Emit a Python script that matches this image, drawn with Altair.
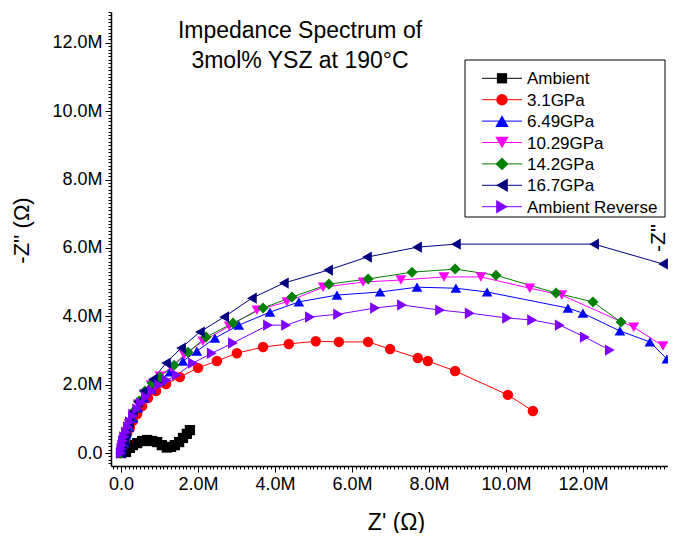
import altair as alt
import pandas as pd

series = ["Ambient", "3.1GPa", "6.49GPa", "10.29GPa", "14.2GPa", "16.7GPa", "Ambient Reverse"]
colors = ["#000000", "#FF0000", "#0000FF", "#FF00FF", "#008000", "#000080", "#8000FF"]
shapes = ["square", "circle", "triangle-up", "triangle-down", "diamond", "triangle-left", "triangle-right"]
sizes = [105, 130, 180, 180, 165, 180, 180]

# values in M-ohm
amb_x = [0.0, 0.02, 0.06, 0.13, 0.23, 0.31, 0.42, 0.55, 0.68, 0.81, 0.94, 1.06, 1.19, 1.30, 1.40, 1.51, 1.61, 1.71, 1.79]
amb_y = [0.0, 0.05, 0.10, 0.03, 0.15, 0.23, 0.29, 0.35, 0.38, 0.35, 0.32, 0.23, 0.16, 0.18, 0.23, 0.32, 0.44, 0.56, 0.67]

r31_x = [0.0, 0.03, 0.05, 0.10, 0.16, 0.23, 0.31, 0.42, 0.55, 0.70, 0.91, 1.17, 1.53, 2.00, 2.49, 3.01, 3.69, 4.36, 5.06, 5.66, 6.42, 6.99, 7.71, 7.97, 8.68, 10.05, 10.70]
r31_y = [0.0, 0.12, 0.23, 0.38, 0.56, 0.73, 0.94, 1.14, 1.37, 1.61, 1.81, 2.02, 2.22, 2.49, 2.69, 2.92, 3.10, 3.19, 3.27, 3.25, 3.25, 3.04, 2.78, 2.69, 2.40, 1.70, 1.23]

b649_x = [0.0, 0.03, 0.08, 0.13, 0.21, 0.31, 0.44, 0.60, 0.78, 1.01, 1.27, 1.61, 1.97, 2.44, 3.06, 3.87, 4.62, 5.61, 6.73, 7.69, 8.70, 9.51, 11.61, 12.00, 12.96, 13.74, 14.18]
b649_y = [0.0, 0.12, 0.32, 0.53, 0.76, 1.02, 1.32, 1.61, 1.87, 2.11, 2.37, 2.69, 2.98, 3.36, 3.74, 4.12, 4.42, 4.62, 4.71, 4.85, 4.82, 4.71, 4.24, 4.09, 3.57, 3.25, 2.75]

m1029_x = [0.0, 0.03, 0.08, 0.13, 0.21, 0.31, 0.44, 0.60, 0.78, 1.01, 1.30, 1.64, 2.13, 2.81, 3.53, 4.31, 5.25, 6.29, 7.27, 8.39, 9.35, 10.62, 11.45, 13.32, 14.08]
m1029_y = [0.0, 0.15, 0.35, 0.58, 0.85, 1.14, 1.43, 1.73, 1.99, 2.25, 2.51, 2.87, 3.27, 3.71, 4.18, 4.42, 4.85, 5.00, 5.06, 5.15, 5.15, 4.82, 4.62, 3.68, 3.13]

g142_x = [0.0, 0.03, 0.08, 0.16, 0.23, 0.34, 0.47, 0.62, 0.81, 1.01, 1.38, 1.74, 2.21, 2.91, 3.69, 4.44, 5.40, 6.42, 7.56, 8.68, 9.74, 11.30, 12.26, 12.99]
g142_y = [0.0, 0.18, 0.41, 0.67, 0.94, 1.23, 1.52, 1.81, 2.05, 2.22, 2.57, 2.95, 3.39, 3.80, 4.24, 4.56, 4.94, 5.09, 5.29, 5.38, 5.20, 4.68, 4.42, 3.83]

n167_x = [0.0, 0.03, 0.08, 0.13, 0.21, 0.31, 0.44, 0.60, 0.83, 1.17, 1.56, 2.05, 2.68, 3.40, 4.23, 5.38, 6.39, 7.69, 8.70, 12.29, 14.08, 15.0]
n167_y = [0.0, 0.15, 0.38, 0.61, 0.88, 1.20, 1.49, 1.81, 2.16, 2.63, 3.07, 3.54, 3.98, 4.53, 4.97, 5.35, 5.73, 6.02, 6.11, 6.11, 5.53, 5.25]

rev_x = [0.0, 0.01, 0.03, 0.05, 0.08, 0.13, 0.18, 0.23, 0.31, 0.42, 0.52, 0.65, 0.81, 0.99, 1.19, 1.45, 1.87, 2.36, 2.91, 3.82, 4.29, 4.91, 5.64, 6.60, 7.30, 8.29, 9.06, 10.03, 10.68, 11.40, 12.05, 12.70]
rev_y = [0.0, 0.12, 0.23, 0.35, 0.47, 0.61, 0.76, 0.91, 1.08, 1.29, 1.46, 1.64, 1.81, 1.99, 2.13, 2.28, 2.63, 2.92, 3.22, 3.74, 3.74, 3.98, 4.06, 4.24, 4.33, 4.18, 4.09, 3.95, 3.89, 3.74, 3.39, 3.01]

all_x = [amb_x, r31_x, b649_x, m1029_x, g142_x, n167_x, rev_x]
all_y = [amb_y, r31_y, b649_y, m1029_y, g142_y, n167_y, rev_y]

rows = []
for s, xs, ys in zip(series, all_x, all_y):
    for i, (a, b) in enumerate(zip(xs, ys)):
        rows.append({"series": s, "zr": a, "zi": b, "idx": i})
df = pd.DataFrame(rows)

x_major = [0, 2, 4, 6, 8, 10, 12]
y_major = [0, 2, 4, 6, 8, 10, 12]
x_minor = [round(i * 0.1, 1) for i in range(-2, 143)]
y_minor = [round(i * 0.1, 1) for i in range(-3, 130)]

FONT = "Liberation Sans"
label_expr = "datum.value == 0 ? '0.0' : format(datum.value, '.1f') + 'M'"

x_scale = alt.Scale(domain=[-0.26, 14.21], nice=False, zero=False)
y_scale = alt.Scale(domain=[-0.38, 12.9], nice=False, zero=False)

common = dict(labelFontSize=18, labelFont=FONT, labelPadding=3, labelOverlap=False,
              labelFlush=False, grid=False, domainWidth=1.5, tickWidth=1,
              domainColor="black", tickColor="black", labelColor="black", titleColor="black",
              titleFont=FONT, titleFontWeight="normal")

x_major_enc = alt.X("zr:Q", scale=x_scale,
                    axis=alt.Axis(orient="bottom", values=x_major, labelExpr=label_expr, tickSize=6,
                                  title="Z' (Ω)", titleFontSize=23, titleY=56, titleBaseline="middle",
                                  titleX=285, **common))
y_major_enc = alt.Y("zi:Q", scale=y_scale,
                    axis=alt.Axis(orient="left", values=y_major, labelExpr=label_expr, tickSize=6,
                                  title="-Z'' (Ω)", titleFontSize=22, titleX=-90, titleY=218, titleAngle=270,
                                  titleAlign="center", titleBaseline="middle", **common))
x_minor_enc = alt.X("zr:Q", scale=x_scale,
                    axis=alt.Axis(orient="bottom", values=x_minor, tickSize=3, labels=False, title=None,
                                  domain=False, grid=False, tickWidth=1, tickColor="black"))
y_minor_enc = alt.Y("zi:Q", scale=y_scale,
                    axis=alt.Axis(orient="left", values=y_minor, tickSize=3, labels=False, title=None,
                                  domain=False, grid=False, tickWidth=1, tickColor="black"))

color_enc = alt.Color("series:N", scale=alt.Scale(domain=series, range=colors), legend=None)
shape_enc = alt.Shape("series:N", scale=alt.Scale(domain=series, range=shapes), legend=None)
size_enc = alt.Size("series:N", scale=alt.Scale(domain=series, range=sizes), legend=None)

base = alt.Chart(df)
lines = base.mark_line(strokeWidth=1, clip=True).encode(
    x=x_major_enc, y=y_major_enc, color=color_enc, detail="series:N", order="idx:Q")
points = base.mark_point(filled=True, opacity=1, strokeWidth=0, clip=True).encode(
    x=x_minor_enc, y=y_minor_enc, color=color_enc, shape=shape_enc, size=size_enc)

one = pd.DataFrame({"a": [0]})
layers = [lines, points]

# title text
layers.append(alt.Chart(one).mark_text(text="Impedance Spectrum of", font=FONT, fontSize=23,
                                       align="center", baseline="alphabetic", color="black")
              .encode(x=alt.value(189), y=alt.value(25.5)))
layers.append(alt.Chart(one).mark_text(text="3mol% YSZ at 190°C", font=FONT, fontSize=23,
                                       align="center", baseline="alphabetic", color="black")
              .encode(x=alt.value(189), y=alt.value(56.3)))
# axis title fragment of the neighbouring panel
layers.append(alt.Chart(one).mark_text(text="-Z''", font=FONT, fontSize=21, angle=270,
                                       align="center", baseline="middle", color="black")
              .encode(x=alt.value(548), y=alt.value(226)))

# legend box
layers.append(alt.Chart(one).mark_rect(fill="white", stroke="black", strokeWidth=1)
              .encode(x=alt.value(354), x2=alt.value(554), y=alt.value(48), y2=alt.value(205)))
for i, (s, c, sh, sz) in enumerate(zip(series, colors, shapes, sizes)):
    yy = 66.3 + i * 21.4
    layers.append(alt.Chart(one).mark_rule(strokeWidth=1, color=c)
                  .encode(x=alt.value(371), x2=alt.value(411), y=alt.value(yy)))
    layers.append(alt.Chart(one).mark_point(filled=True, opacity=1, strokeWidth=0, color=c, shape=sh, size=sz)
                  .encode(x=alt.value(391), y=alt.value(yy)))
    layers.append(alt.Chart(one).mark_text(text=s, font=FONT, fontSize=17, align="left",
                                           baseline="middle", color="black")
                  .encode(x=alt.value(416), y=alt.value(yy + 1)))

chart = alt.layer(*layers).resolve_axis(x="independent", y="independent").properties(
    width=557, height=454,
    autosize=alt.AutoSizeParams(type="none"),
    padding={"left": 103, "top": 4, "right": 0, "bottom": 67},
    background="white",
).configure_view(stroke=None)

chart.save("out.html", embed_options={"renderer": "svg", "actions": False})
